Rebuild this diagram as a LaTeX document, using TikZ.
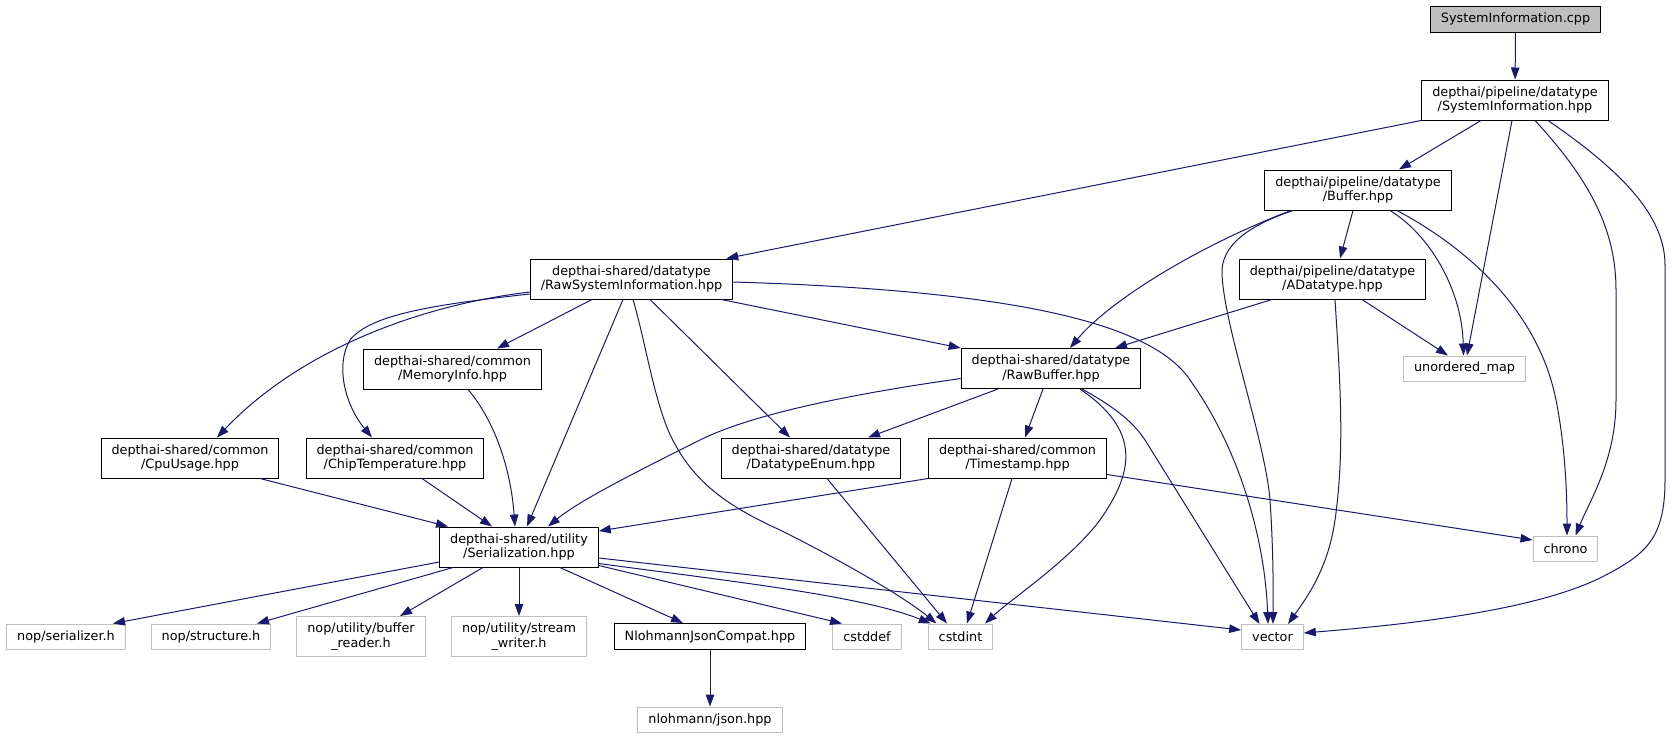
\documentclass[tikz,border=0pt]{standalone}
\usepackage{fontspec}
\setmainfont{DejaVu Sans}
\usetikzlibrary{positioning, calc, arrows.meta}
\definecolor{edgeblue}{HTML}{191970}
\definecolor{undoc}{HTML}{BFBFBF}

\begin{document}
\begin{tikzpicture}[x=1pt, y=-1pt,
	file/.style={draw=black, fill=white, line width=1pt, inner xsep=10.5pt, inner ysep=0pt, minimum height=40pt, align=center, font=\fontsize{12.8}{14.7}\selectfont},
	sys/.style={file, draw=undoc, minimum height=25pt},
	dep/.style={draw=edgeblue, line width=1pt, -{Triangle[length=12pt, width=8.5pt]}}]
\useasboundingbox (0,0) rectangle (1673,737);
\node[file, fill=undoc, minimum height=26] (sicpp) at (1515.5,19) {SystemInformation.cpp};
\node[file] (sihpp) at (1515,100) {depthai/pipeline/datatype\\/SystemInformation.hpp};
\node[file] (buffer) at (1358,190) {depthai/pipeline/datatype\\/Buffer.hpp};
\node[file] (adatatype) at (1332.5,279) {depthai/pipeline/datatype\\/ADatatype.hpp};
\node[sys] (umap) at (1464.5,368.5) {unordered\_map};
\node[file] (rsi) at (631.5,279) {depthai-shared/datatype\\/RawSystemInformation.hpp};
\node[file] (memory) at (452.5,369) {depthai-shared/common\\/MemoryInfo.hpp};
\node[file] (rawbuffer) at (1051,368.5) {depthai-shared/datatype\\/RawBuffer.hpp};
\node[file] (cpu) at (190,458) {depthai-shared/common\\/CpuUsage.hpp};
\node[file] (chip) at (395,458) {depthai-shared/common\\/ChipTemperature.hpp};
\node[file] (dtenum) at (811,458) {depthai-shared/datatype\\/DatatypeEnum.hpp};
\node[file] (timestamp) at (1017.5,458) {depthai-shared/common\\/Timestamp.hpp};
\node[file] (serial) at (519,547) {depthai-shared/utility\\/Serialization.hpp};
\node[sys] (chrono) at (1565.5,548.5) {chrono};
\node[sys] (nopser) at (66,636.5) {nop/serializer.h};
\node[sys] (nopstruct) at (211,636.5) {nop/structure.h};
\node[sys, minimum height=40] (bufreader) at (361,636.5) {nop/utility/buffer\\\_reader.h};
\node[sys, minimum height=40] (streamwriter) at (519,636.5) {nop/utility/stream\\\_writer.h};
\node[file, minimum height=26] (nloh) at (710,636.5) {NlohmannJsonCompat.hpp};
\node[sys] (cstddef) at (867,636.5) {cstddef};
\node[sys] (cstdint) at (960.5,636.5) {cstdint};
\node[sys] (vector) at (1272.5,637) {vector};
\node[sys, below=56.5pt of nloh] (json) {nlohmann/json.hpp};

\foreach \a/\b in {sicpp/sihpp, serial/streamwriter, nloh/json}
	\draw[dep] (\a) -- (\b);

\draw[dep] (sihpp.south west) -- ([xshift=-7]rsi.north east);
\draw[dep] ([xshift=-34]sihpp.south) -- ([xshift=41]buffer.north);
\draw[dep] ([xshift=-3]sihpp.south) -- ([xshift=2.5]umap.north);
\draw[dep] ([xshift=20]sihpp.south) .. controls (1590,180) and (1616,230) .. (1616,290) -- (1616,400) .. controls (1616,460) and (1590,500) .. ([xshift=10]chrono.north);
\draw[dep] ([xshift=33]sihpp.south) .. controls (1620,170) and (1665,215) .. (1665,265) -- (1665,480) .. controls (1665,540) and (1645,555) .. (1600,578) .. controls (1530,612) and (1400,625) .. ([yshift=4]vector.east);

\draw[dep] ([xshift=-5]buffer.south) -- ([xshift=7.5]adatatype.north);
\draw[dep] ([xshift=32]buffer.south) .. controls (1430,235) and (1462,290) .. ([xshift=-1]umap.north);
\draw[dep] ([xshift=39]buffer.south) .. controls (1480,255) and (1540,320) .. (1556,400) .. controls (1566,450) and (1567,500) .. ([xshift=1.5]chrono.north);
\draw[dep] ([xshift=-65]buffer.south) .. controls (1250,225) and (1220,245) .. (1222,275) .. controls (1225,330) and (1265,440) .. (1270,500) .. controls (1274,560) and (1273,600) .. ([xshift=0.5]vector.north);
\draw[dep] ([xshift=-67]buffer.south) .. controls (1200,245) and (1110,300) .. ([xshift=19]rawbuffer.north);

\draw[dep] ([xshift=-60.5]adatatype.south) -- ([xshift=64]rawbuffer.north);
\draw[dep] ([xshift=29.5]adatatype.south) -- ([xshift=-16.5]umap.north);
\draw[dep] ([xshift=2.5]adatatype.south) .. controls (1340,380) and (1345,450) .. (1335,520) .. controls (1328,570) and (1305,600) .. ([xshift=15.5]vector.north);

\draw[dep] ([xshift=-39.5]rsi.south) -- ([xshift=44.5]memory.north);
\draw[dep] ([xshift=-8.5]rsi.south) -- ([xshift=8]serial.north);
\draw[dep] ([xshift=1.5]rsi.south) .. controls (645,340) and (652,390) .. (668,430) .. controls (690,480) and (725,505) .. (780,530) .. controls (850,565) and (905,598) .. ([xshift=-24]cstdint.north);
\draw[dep] ([xshift=18.5]rsi.south) -- ([xshift=-21]dtenum.north);
\draw[dep] ([xshift=-12]rsi.south east) -- (rawbuffer.north west);
\draw[dep] ([yshift=-3]rsi.east) .. controls (1000,290) and (1150,320) .. (1190,380) .. controls (1240,450) and (1265,540) .. ([xshift=-4.5]vector.north);
\draw[dep] ([yshift=-13]rsi.west) .. controls (420,305) and (300,350) .. ([xshift=27]cpu.north);
\draw[dep] ([yshift=-15]rsi.west) .. controls (430,305) and (370,315) .. (350,340) .. controls (335,365) and (345,405) .. ([xshift=-23]chip.north);
\draw[dep] ([xshift=15.5]memory.south) .. controls (490,415) and (510,460) .. ([xshift=-4]serial.north);

\draw[dep] ([yshift=-10]rawbuffer.west) .. controls (880,390) and (760,410) .. (700,440) .. controls (640,470) and (580,500) .. ([xshift=29]serial.north);
\draw[dep] ([xshift=-53]rawbuffer.south) -- ([xshift=57]dtenum.north);
\draw[dep] ([xshift=-8]rawbuffer.south) -- ([xshift=7.5]timestamp.north);
\draw[dep] ([xshift=29]rawbuffer.south) .. controls (1140,430) and (1135,470) .. (1100,520) .. controls (1070,560) and (1010,600) .. ([xshift=24.5]cstdint.north);
\draw[dep] ([xshift=31]rawbuffer.south) .. controls (1120,410) and (1135,425) .. (1145,440) -- ([xshift=-13]vector.north);

\draw[dep] ([xshift=70]cpu.south) -- ([xshift=-71]serial.north);
\draw[dep] ([xshift=27]chip.south) -- ([xshift=-27]serial.north);
\draw[dep] ([xshift=16]dtenum.south) -- ([xshift=-13.5]cstdint.north);
\draw[dep] ([xshift=-5.5]timestamp.south) -- ([xshift=6.5]cstdint.north);
\draw[dep] (timestamp.south west) -- ([yshift=16]serial.east);
\draw[dep] ([yshift=4]timestamp.south east) -- ([yshift=8.5]chrono.west);

\draw[dep] ([yshift=-15]serial.west) -- ([xshift=47]nopser.north);
\draw[dep] ([xshift=-66]serial.south) -- ([xshift=46]nopstruct.north);
\draw[dep] ([xshift=-36]serial.south) -- ([xshift=39]bufreader.north);
\draw[dep] ([xshift=41]serial.south) -- ([xshift=-27]nloh.north);
\draw[dep] ([yshift=2]serial.south east) -- ([xshift=-25]cstddef.north);
\draw[dep] ([yshift=4]serial.south east) .. controls (720,580) and (860,595) .. ([xshift=3]cstdint.north west);
\draw[dep] ([yshift=-11]serial.east) -- ([yshift=7]vector.west);
\end{tikzpicture}
\end{document}
